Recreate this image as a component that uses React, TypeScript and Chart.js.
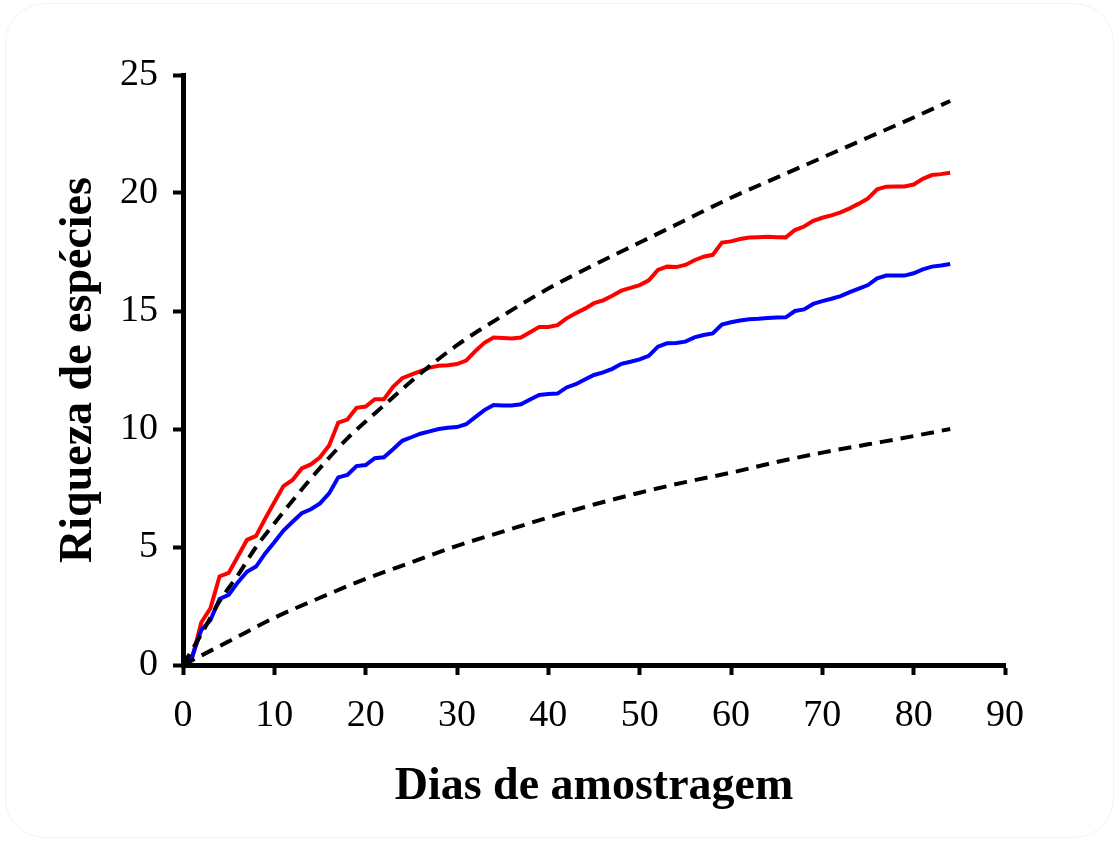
import React, { useEffect, useRef } from "react";
import { Chart, registerables } from "chart.js";

Chart.register(...registerables);

const days = [
  0, 1, 2, 3, 4, 5, 6, 7, 8, 9, 10, 11, 12, 13, 14, 15, 16, 17, 18, 19, 20,
  21, 22, 23, 24, 25, 26, 27, 28, 29, 30, 31, 32, 33, 34, 35, 36, 37, 38, 39, 40,
  41, 42, 43, 44, 45, 46, 47, 48, 49, 50, 51, 52, 53, 54, 55, 56, 57, 58, 59, 60,
  61, 62, 63, 64, 65, 66, 67, 68, 69, 70, 71, 72, 73, 74, 75, 76, 77, 78, 79, 80,
  81, 82, 83, 84,
];

const redSeries = [
  0, 0.3, 1.8, 2.4, 3.75, 3.9, 4.6, 5.3, 5.47, 6.2, 6.9, 7.58, 7.84, 8.33, 8.5, 8.8, 9.3, 10.27, 10.4, 10.9, 10.95,
  11.26, 11.26, 11.79, 12.15, 12.3, 12.45, 12.6, 12.68, 12.7, 12.75, 12.9, 13.3, 13.65, 13.88, 13.86, 13.84, 13.88, 14.1, 14.32, 14.32,
  14.4, 14.69, 14.9, 15.1, 15.33, 15.45, 15.65, 15.86, 15.98, 16.1, 16.3, 16.74, 16.88, 16.86, 16.95, 17.15, 17.3, 17.38, 17.9, 17.95,
  18.05, 18.11, 18.13, 18.15, 18.13, 18.12, 18.43, 18.58, 18.82, 18.95, 19.05, 19.18, 19.35, 19.55, 19.77, 20.16, 20.27, 20.28, 20.28, 20.36,
  20.6, 20.76, 20.8, 20.86,
];

const blueSeries = [
  0, 0.35, 1.48, 1.9, 2.8, 2.97, 3.5, 3.95, 4.17, 4.73, 5.2, 5.7, 6.07, 6.43, 6.6, 6.85, 7.27, 7.95, 8.05, 8.43, 8.47,
  8.76, 8.8, 9.14, 9.5, 9.65, 9.8, 9.9, 10.0, 10.05, 10.08, 10.2, 10.5, 10.8, 11.02, 11.0, 11.0, 11.05, 11.25, 11.44, 11.48,
  11.5, 11.76, 11.9, 12.1, 12.29, 12.4, 12.55, 12.76, 12.85, 12.95, 13.1, 13.49, 13.63, 13.64, 13.7, 13.88, 13.98, 14.05, 14.43, 14.52,
  14.6, 14.65, 14.67, 14.7, 14.72, 14.73, 15.0, 15.07, 15.3, 15.42, 15.52, 15.63, 15.8, 15.95, 16.1, 16.38, 16.5, 16.5, 16.5, 16.6,
  16.76, 16.88, 16.93, 16.99,
];

const upperDashDays = [0, 2, 4, 6, 8, 10, 14, 18, 22, 26, 30, 35, 40, 45, 50, 55, 60, 65, 70, 75, 80, 84];
const upperDashValues = [0, 1.3, 2.7, 3.8, 5.0, 6.0, 7.9, 9.6, 11.0, 12.35, 13.55, 14.8, 15.95, 16.95, 17.9, 18.85, 19.8, 20.65, 21.5, 22.35, 23.2, 23.9];

const lowerDashDays = [0, 2, 5, 10, 15, 20, 25, 30, 35, 40, 45, 50, 55, 60, 65, 70, 75, 80, 84];
const lowerDashValues = [0, 0.4, 1.0, 2.0, 2.85, 3.65, 4.35, 5.05, 5.65, 6.25, 6.8, 7.3, 7.75, 8.15, 8.6, 9.0, 9.35, 9.7, 10.0];

const xTicks = [0, 10, 20, 30, 40, 50, 60, 70, 80, 90];
const yTicks = [0, 5, 10, 15, 20, 25];

const xTitle = "Dias de amostragem";
const yTitle = "Riqueza de espécies";

function pts(xs: number[], ys: number[]) {
  return xs.map((x, i) => ({ x, y: ys[i] }));
}

export default function App() {
  const ref = useRef<HTMLCanvasElement | null>(null);

  useEffect(() => {
    if (!ref.current) return;
    const serif = "'Liberation Serif', 'DejaVu Serif', serif";
    const axisCommon = {
      grid: {
        display: true,
        drawOnChartArea: false,
        drawTicks: true,
        tickLength: 10,
        tickWidth: 4,
        tickColor: "#000",
      },
      border: { display: true, color: "#000", width: 5 },
    };
    const chart = new Chart(ref.current, {
      type: "line",
      data: {
        datasets: [
          {
            data: pts(upperDashDays, upperDashValues),
            borderColor: "#000",
            borderWidth: 4,
            borderDash: [13, 8],
            pointRadius: 0,
            tension: 0.4,
            cubicInterpolationMode: "monotone",
            fill: false,
          },
          {
            data: pts(lowerDashDays, lowerDashValues),
            borderColor: "#000",
            borderWidth: 4,
            borderDash: [13, 8],
            pointRadius: 0,
            tension: 0.4,
            cubicInterpolationMode: "monotone",
            fill: false,
          },
          {
            data: pts(days, blueSeries),
            borderColor: "#0000ff",
            borderWidth: 4,
            pointRadius: 0,
            tension: 0,
            fill: false,
          },
          {
            data: pts(days, redSeries),
            borderColor: "#ff0000",
            borderWidth: 4,
            pointRadius: 0,
            tension: 0,
            fill: false,
          },
        ],
      },
      options: {
        animation: false,
        responsive: false,
        layout: { padding: { top: 75, right: 114, left: 0, bottom: 0 } },
        plugins: { legend: { display: false }, tooltip: { enabled: false } },
        scales: {
          x: {
            type: "linear",
            min: 0,
            max: 90,
            afterBuildTicks: (scale: any) => {
              scale.ticks = xTicks.map((v) => ({ value: v }));
            },
            afterFit: (scale: any) => {
              scale.height = 176;
            },
            ticks: {
              color: "#000",
              font: { family: serif, size: 38 },
              padding: 18,
              maxRotation: 0,
              autoSkip: false,
            },
            title: {
              display: true,
              text: xTitle,
              color: "#000",
              font: { family: serif, size: 46, weight: "bold" },
              padding: { top: 0, bottom: 26 },
            },
            ...axisCommon,
          },
          y: {
            type: "linear",
            min: 0,
            max: 25,
            afterBuildTicks: (scale: any) => {
              scale.ticks = yTicks.map((v) => ({ value: v }));
            },
            afterFit: (scale: any) => {
              scale.width = 183;
            },
            ticks: {
              color: "#000",
              font: { family: serif, size: 38 },
              padding: 15,
              autoSkip: false,
            },
            title: {
              display: true,
              text: yTitle,
              color: "#000",
              font: { family: serif, size: 46, weight: "bold" },
              padding: { top: 52, bottom: 0 },
            },
            ...axisCommon,
          },
        },
      },
    } as any);
    return () => chart.destroy();
  }, []);

  return (
    <div style={{ position: "fixed", left: 0, top: 0, width: 1119, height: 841, background: "#fff" }}>
      <div
        style={{
          position: "absolute",
          left: 5,
          top: 3,
          right: 5,
          bottom: 3,
          border: "1px solid #f2f2f2",
          borderRadius: 40,
          pointerEvents: "none",
        }}
      />
      <canvas ref={ref} width={1119} height={841} style={{ position: "absolute", left: 0, top: 0 }} />
    </div>
  );
}
